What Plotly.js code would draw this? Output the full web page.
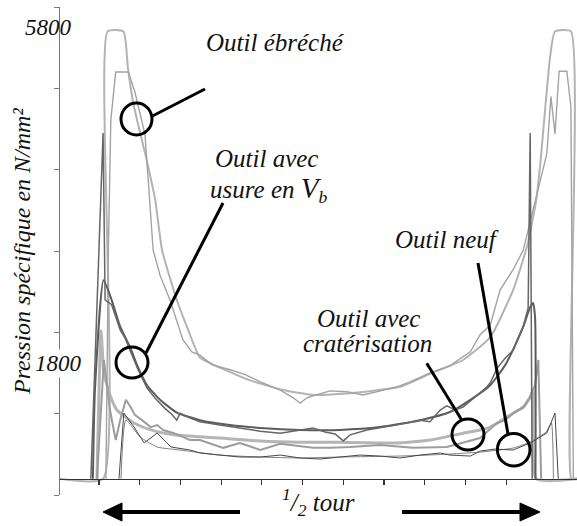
<!DOCTYPE html>
<html><head><meta charset="utf-8">
<script src="https://cdn.plot.ly/plotly-3.0.1.min.js"></script>
<style>html,body{margin:0;padding:0;background:#fff}#chart{width:577px;height:526px}</style>
</head><body><div id="chart"></div>
<script>
// ---- Data (x: position over half a turn, arbitrary units; y: specific pressure N/mm²) ----
const ebrecheFitX = [0.4,11.0,12.1,16.0,17.1,18.4,21.7,23.8,25.5,29.1,31.9,34.8,41.4,47.1,55.2,62.6,71.7,83.9,91.3,99.4,106.1,111.7,115.2,117.4,118.4,120.8,122.0,125.9,126.0,127.4];
const ebrecheFitY = [0,0,5500,5500,5050,4620,3920,3430,2810,2200,1830,1490,1330,1210,1090,1030,1050,1130,1290,1460,1740,2320,2870,3430,3880,5190,5500,5500,0,0];
const ebrecheMesX = [11.7,12.3,12.9,14.1,17.2,18.8,21.3,22.5,23.3,25.0,27.4,30.6,32.8,34.8,37.8,42.2,45.9,50.1,54.5,57.7,59.4,61.1,62.6,66.8,70.9,74.9,79.0,83.2,86.4,91.3,96.2,101.2,103.6,106.1,108.5,111.7,114.2,115.9,118.4,120.0,121.0,122.0,123.0,124.9,125.9,126.5,127.4];
const ebrecheMesY = [0,2810,4410,5000,5000,4760,4230,3430,2810,2500,2200,1710,1560,1520,1400,1340,1280,1180,1090,995,930,995,1020,1080,1070,1030,1080,1130,1190,1300,1390,1560,1770,1890,2320,2570,2810,3160,3670,4000,4700,4240,5010,5010,4580,0,0];
const craterFitX = [9.5,10.5,11.2,12.7,14.4,18.6,22.8,28.4,34.8,39.7,49.6,59.4,69.2,83.2,91.3,99.4,103.6,106.1,111.7,114.2,115.9,116.6,117.4,127.4];
const craterFitY = [0,1820,1300,1030,845,685,600,540,515,500,465,450,450,440,475,560,600,635,805,880,1005,1090,0,0];
const craterMesX = [9.5,11.2,12.7,14.1,15.2,16.6,17.8,18.8,20.6,22.7,24.3,25.7,28.4,32.4,34.8,40.5,44.6,49.6,54.5,59.4,62.6,66.8,71.7,79.0,87.1,95.4,99.9,103.6,107.7,109.8,111.7,114.2,115.9,117.1,117.9,118.6];
const craterMesY = [0,1460,845,475,720,970,880,785,720,635,660,600,560,475,475,380,440,355,430,400,380,380,390,415,380,390,450,500,685,720,805,880,1005,1150,1460,0];
const usureFitX = [8.5,9.0,11.1,13.1,15.2,17.6,19.6,21.8,25.0,29.2,34.8,42.2,49.6,59.4,69.2,79.0,88.9,96.2,101.2,106.1,109.8,112.2,114.2,115.9,116.6,117.1,117.2];
const usureFitY = [0,1090,2440,2200,1870,1620,1370,1150,970,810,720,660,625,600,600,635,720,820,970,1150,1400,1640,1870,2110,2160,1990,0];
const usureMesX = [8.0,11.0,11.5,13.1,15.2,16.4,17.6,19.6,21.8,23.8,26.2,27.9,29.1,29.9,32.4,34.8,39.7,44.6,49.6,54.5,59.4,62.6,65.5,68.0,70.0,71.7,75.8,79.0,83.9,88.9,91.3,93.8,95.4,97.5,99.4,102.4,105.3,106.1,107.8,109.8,111.7,112.9,114.2,115.4,115.9,116.4];
const usureMesY = [0,4250,2200,2140,1830,1730,1580,1340,1115,990,865,790,720,805,745,700,660,625,585,560,600,625,575,550,465,540,600,625,670,720,700,845,895,845,880,1005,1130,1180,1360,1485,1580,1730,1870,2100,4250,0];
const neufFitX = [15.4,16.6,20.1,24.3,29.9,39.7,49.6,59.4,69.2,83.9,96.2,103.6,111.7,115.9,119.8,121.1,121.6];
const neufFitY = [0,722,513,390,353,291,267,255,267,279,303,328,377,451,574,685,0];
const neufMesX = [14.9,16.1,18.6,21.1,24.3,25.9,27.7,32.4,34.8,39.7,44.6,49.6,54.5,59.4,64.3,69.2,74.1,79.0,83.9,88.9,93.8,96.2,101.2,103.6,107.3,111.7,115.9,120.0,122.0,122.8];
const neufMesY = [0,808,636,440,562,476,390,353,316,291,267,267,291,255,242,267,291,279,255,291,316,291,279,340,365,353,440,562,808,0];
const xTicks = [10,20,30,40,50,60,70,80,90,100,110];
const yTicks = [-200,800,1800,2800,3800,4800,5800];
const yLabels = ['5800','1800'];
const labels = {
  ebreche: 'Outil ébréché',
  usure1: 'Outil avec',
  usure2: 'usure en <span style="font-size:29px">V</span><sub>b</sub>',
  neuf: 'Outil neuf',
  crater1: 'Outil avec',
  crater2: 'cratérisation',
  yTitle: 'Pression spécifique en N/mm²',
  xTitle: '<sup>1</sup>/<sub>2</sub> tour'
};

// ---- Layout helpers (page pixels -> paper fractions, decorations only) ----
const W=577,H=526,ML=60,MR=0,MT=7,MB=31;
const PW=W-ML-MR, PH=H-MT-MB;
const px = x => (x-ML)/PW;
const py = y => (H-MB-y)/PH;
const serif = 'Liberation Serif';

function tr(x,y,color,width,smooth){
  return {x:x,y:y,type:'scatter',mode:'lines',hoverinfo:'skip',showlegend:false,
    line:smooth?{color:color,width:width,shape:'spline',smoothing:0.5}:{color:color,width:width,shape:'linear'}};
}
const data = [
  tr(ebrecheFitX,ebrecheFitY,'#b3b3b3',2,true),
  tr(ebrecheMesX,ebrecheMesY,'#a3a3a3',1.4),
  tr(craterFitX,craterFitY,'#b5b5b5',3,true),
  tr(craterMesX,craterMesY,'#9c9c9c',2),
  tr(usureFitX,usureFitY,'#5c5c5c',2,true),
  tr(usureMesX,usureMesY,'#666666',1.5),
  tr(neufFitX,neufFitY,'#808080',1,true),
  tr(neufMesX,neufMesY,'#474747',1)
];

function circle(cx,cy,rx,ry){
  return {type:'circle',xref:'paper',yref:'paper',x0:px(cx-rx),x1:px(cx+rx),y0:py(cy+ry),y1:py(cy-ry),
    line:{color:'#000',width:3},fillcolor:'rgba(0,0,0,0)'};
}
function seg(x0,y0,x1,y1,w){
  return {type:'line',xref:'paper',yref:'paper',x0:px(x0),y0:py(y0),x1:px(x1),y1:py(y1),line:{color:'#000',width:w||3}};
}
function tri(tx,ty,bx,half){
  return {type:'path',xref:'paper',yref:'paper',
    path:`M ${px(tx)} ${py(ty)} L ${px(bx)} ${py(ty-half)} L ${px(bx)} ${py(ty+half)} Z`,
    fillcolor:'#000',line:{color:'#000',width:1}};
}
const shapes = [
  circle(136.5,119,15.5,16), seg(151.5,116.5,205,89),
  circle(132,362.5,16,15.5), seg(146,353,223,203),
  circle(468,434.5,16,15.5), seg(426.7,363.3,461.7,420),
  circle(513.7,449.7,16.3,16.3), seg(478,263,508,434),
  seg(240,512,119,512,4), tri(103,512,122,9),
  seg(402,512,523,512,4), tri(540,512,520,9)
];
function txt(t,x,y,size,extra){
  return Object.assign({text:t,xref:'paper',yref:'paper',x:px(x),y:py(y),
    xanchor:'center',yanchor:'middle',showarrow:false,
    font:{family:serif,size:size,color:'#111',style:'italic'}},extra||{});
}
const annotations = [
  txt(labels.ebreche,275,42,25),
  txt(labels.usure1,266,158,25),
  txt(labels.usure2,268,189,25),
  txt(labels.neuf,447,240,25),
  txt(labels.crater1,368,318,25),
  txt(labels.crater2,367,343,25),
  txt(labels.xTitle,318,502,25),
  txt(yLabels[0],48,27,23),
  txt(yLabels[1],58,363,23,{bgcolor:'#fff'}),
  txt(labels.yTitle,22,252,24,{textangle:-90})
];

const layout = {
  width:W,height:H,margin:{l:ML,r:MR,t:MT,b:MB,pad:0},
  paper_bgcolor:'#fff',plot_bgcolor:'#fff',showlegend:false,
  xaxis:{range:[0.42,127.4],anchor:'free',position:200/6000,showline:true,linecolor:'#333',linewidth:1.5,
    tickvals:xTicks,ticks:'outside',ticklen:5,tickcolor:'#333',tickwidth:1.2,showticklabels:false,
    showgrid:false,zeroline:false,fixedrange:true},
  yaxis:{range:[-200,5800],showline:true,linecolor:'#777',linewidth:1.5,
    tickvals:yTicks,ticks:'outside',ticklen:5,tickcolor:'#777',showticklabels:false,
    showgrid:false,zeroline:false,fixedrange:true},
  shapes:shapes,annotations:annotations
};
Plotly.newPlot('chart',data,layout,{displayModeBar:false,staticPlot:true});
</script></body></html>
